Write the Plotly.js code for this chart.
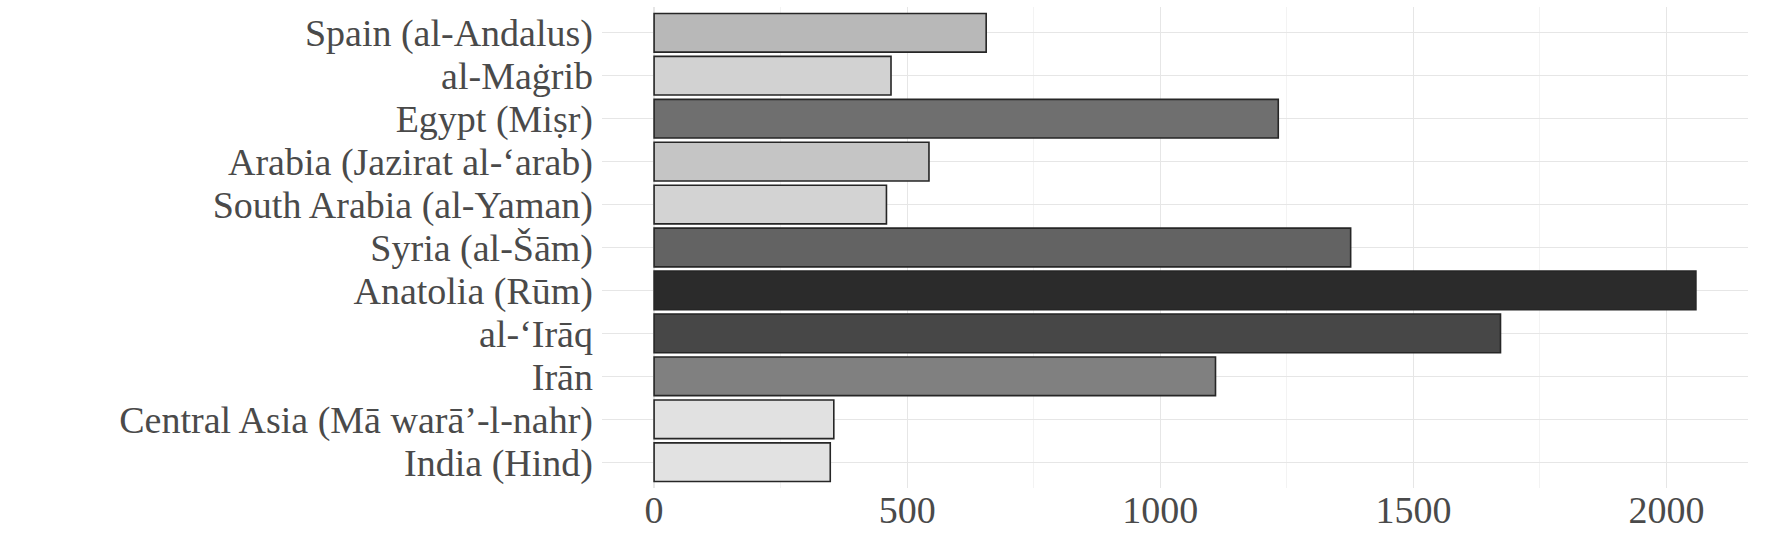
<!DOCTYPE html>
<html>
<head>
<meta charset="utf-8">
<script src="https://cdn.plot.ly/plotly-3.0.1.min.js"></script>
<style>html,body{margin:0;padding:0;background:#fff;}#chart{width:1766px;height:544px;}</style>
</head>
<body>
<div id="chart"></div>
<script>
// Regions, top to bottom
const regions = [
  "Spain (al-Andalus)",
  "al-Maġrib",
  "Egypt (Miṣr)",
  "Arabia (Jazirat al-‘arab)",
  "South Arabia (al-Yaman)",
  "Syria (al-Šām)",
  "Anatolia (Rūm)",
  "al-‘Irāq",
  "Irān",
  "Central Asia (Mā warā’-l-nahr)",
  "India (Hind)"
];
const counts = [656, 468, 1233, 543, 459, 1376, 2058, 1672, 1109, 355, 348];
const xTickValues = [0, 500, 1000, 1500, 2000];
const xTickLabels = ["0", "500", "1000", "1500", "2000"];
const xMinorTicks = [250, 750, 1250, 1750];

const cmin = Math.min(...counts), cmax = Math.max(...counts);
const greyScale = [
  [0, "#e2e2e2"], [0.065, "#d3d3d3"], [0.114, "#c5c5c5"], [0.18, "#b8b8b8"],
  [0.445, "#808080"], [0.518, "#6f6f6f"], [0.601, "#636363"], [0.774, "#474747"], [1, "#2b2b2b"]
];

const font = {family: "Liberation Serif, Times New Roman, serif", size: 38, color: "#4a4a4a"};

const trace = {
  type: "bar",
  orientation: "h",
  x: counts,
  y: regions,
  marker: {
    color: counts,
    cmin: cmin,
    cmax: cmax,
    colorscale: greyScale,
    showscale: false,
    line: {color: "#262626", width: 1.6}
  },
  hoverinfo: "x+y"
};

const pad = 0.05 * cmax;
const layout = {
  width: 1766,
  height: 544,
  margin: {l: 602, r: 18, t: 7, b: 56, pad: 0},
  paper_bgcolor: "#ffffff",
  plot_bgcolor: "#ffffff",
  font: font,
  showlegend: false,
  bargap: 0.1,
  xaxis: {
    range: [-pad, cmax + pad],
    tickmode: "array",
    tickvals: xTickValues,
    ticktext: xTickLabels,
    showgrid: true,
    gridcolor: "#e6e6e6",
    gridwidth: 1.2,
    zeroline: false,
    showline: false,
    ticks: "",
    ticklabelstandoff: -4,
    tickfont: font,
    minor: {tickvals: xMinorTicks, showgrid: true, gridcolor: "#f0f0f0", gridwidth: 0.8, ticks: ""}
  },
  yaxis: {
    type: "category",
    categoryorder: "array",
    categoryarray: regions,
    tickmode: "array",
    tickvals: regions,
    ticktext: regions,
    range: [regions.length - 1 + 0.6, -0.6],
    showgrid: true,
    gridcolor: "#e6e6e6",
    gridwidth: 1.2,
    zeroline: false,
    showline: false,
    ticks: "",
    ticklabelstandoff: 8,
    tickfont: font
  }
};

Plotly.newPlot("chart", [trace], layout, {displayModeBar: false, staticPlot: true});
</script>
</body>
</html>
